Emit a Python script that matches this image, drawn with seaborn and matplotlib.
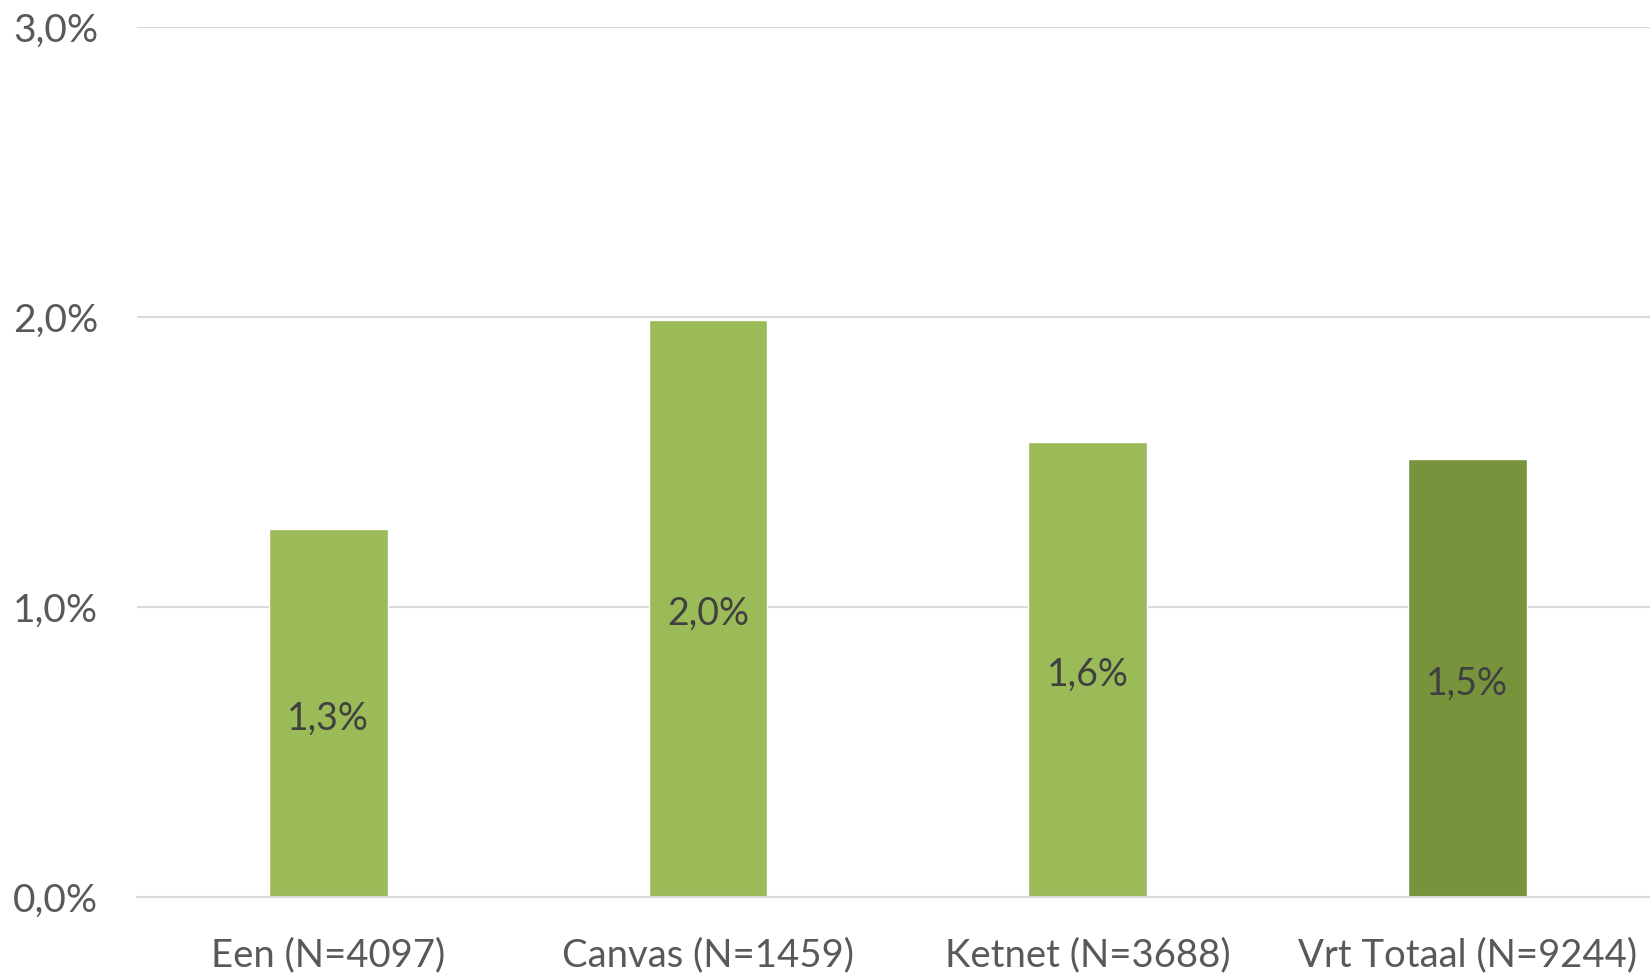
import matplotlib
matplotlib.use("Agg")
import matplotlib.pyplot as plt
import seaborn as sns
import pandas as pd

# data
zenders = ["Een (N=4097)", "Canvas (N=1459)", "Ketnet (N=3688)", "Vrt Totaal (N=9244)"]
percentages = [1.27, 1.99, 1.57, 1.51]
labels = ["1,3%", "2,0%", "1,6%", "1,5%"]
kleuren = ["#9BBB59", "#9BBB59", "#9BBB59", "#77933C"]

df = pd.DataFrame({"Zender": zenders, "Pct": percentages})

sns.set_style("white")
plt.rcParams["font.family"] = ["Lato", "DejaVu Sans"]

fig = plt.figure(figsize=(16.5, 9.74), dpi=100)
ax = fig.add_axes([0.083, 0.079, 0.917, 0.893])

sns.barplot(data=df, x="Zender", y="Pct", hue="Zender", palette=kleuren,
            width=0.313, legend=False, ax=ax, saturation=1)

# data labels in het midden van de balk
for i, (v, lab) in enumerate(zip(percentages, labels)):
    ax.annotate(lab, xy=(i, v / 2), xytext=(0, -4), textcoords="offset points",
                ha="center", va="center", fontsize=27, color="#404040")

ax.set_ylim(0, 3)
ax.set_xlim(-0.504, 3.481)
ax.set_yticks([0, 1, 2, 3])
ax.set_yticklabels(["0,0%", "1,0%", "2,0%", "3,0%"])
ax.yaxis.grid(True, color="#D9D9D9", linewidth=1.5)
ax.set_axisbelow(True)
for s in ["top", "right", "left"]:
    ax.spines[s].set_visible(False)
ax.spines["bottom"].set_color("#D9D9D9")
ax.spines["bottom"].set_linewidth(1.5)
ax.tick_params(axis="y", length=0, pad=28, labelsize=28, labelcolor="#595959")
ax.tick_params(axis="x", length=0, pad=29, labelsize=27.5, labelcolor="#595959")
ax.set_xlabel("")
ax.set_ylabel("")

plt.savefig("out.png", dpi=100)
